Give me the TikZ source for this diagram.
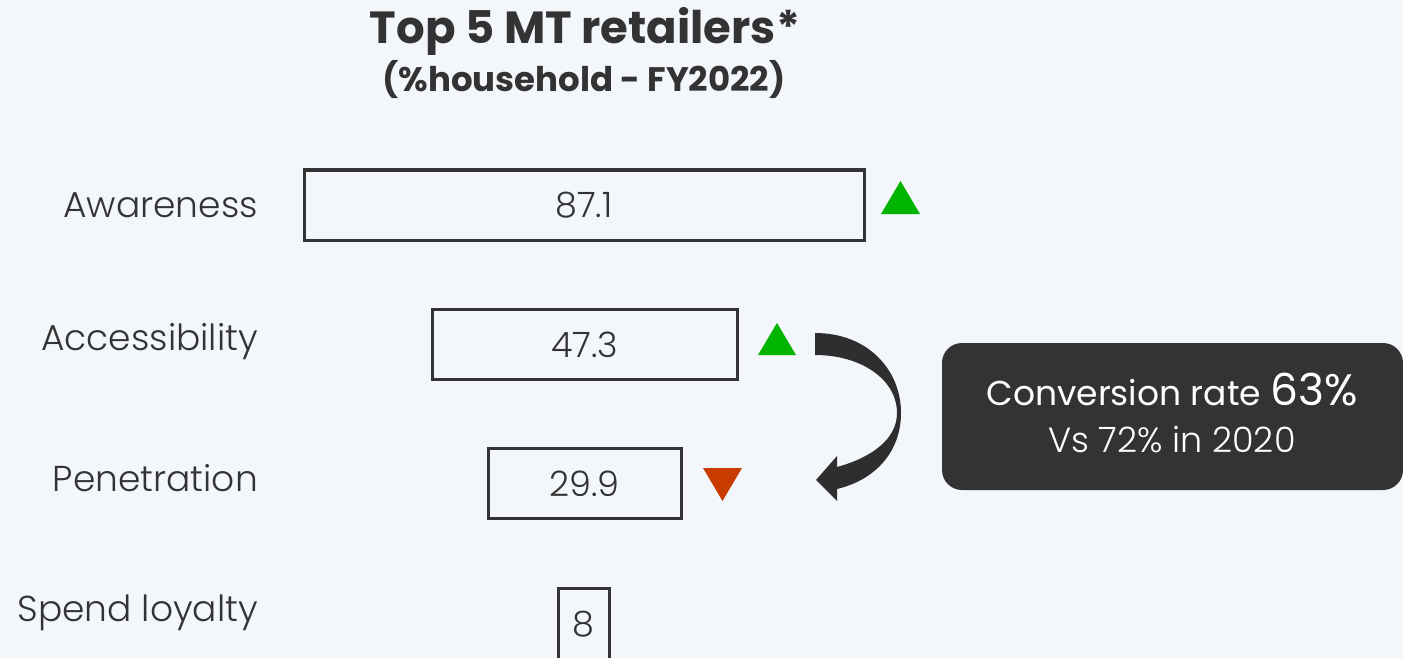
\documentclass[tikz,border=0pt]{standalone}
\usepackage{fontspec}
\setmainfont{Poppins}
\newfontfamily\lightfont{Poppins Light}
\usetikzlibrary{shapes.geometric}
\definecolor{bg}{HTML}{F3F6FA}
\definecolor{ink}{HTML}{333333}
\definecolor{upg}{HTML}{00B400}
\definecolor{dnr}{HTML}{C83C00}
\tikzset{
  bar/.style={draw=ink, line width=3pt, fill=none, inner sep=0pt, text=ink, font=\lightfont\fontsize{35}{38}\selectfont},
  lbl/.style={anchor=east, text=ink, inner sep=0pt, font=\lightfont\fontsize{36}{40}\selectfont},
}
\begin{document}
\begin{tikzpicture}[x=1pt,y=-1pt]
\fill[bg] (0,0) rectangle (1403,658);
\useasboundingbox (0,0) rectangle (1403,658);
% title
\node[text=ink, font=\bfseries\fontsize{45}{50}\selectfont, inner sep=0pt] (title) at (585,31) {Top 5 MT retailers*};
\node[text=ink, font=\bfseries\fontsize{34}{38}\selectfont, inner sep=0pt] (sub) at (584,80) {(\%household - FY2022)};
% labels
\node[lbl] (l1) at (258,205) {Awareness};
\node[lbl] (l2) at (258,342) {Accessibility};
\node[lbl] (l3) at (258,478) {Penetration};
\node[lbl] (l4) at (258,613) {Spend loyalty};
% bars
\node[bar, minimum width=560pt, minimum height=70pt] (b1) at (584,205) {87.1};
\node[bar, minimum width=305pt, minimum height=70pt] (b2) at (584.5,344.5) {47.3};
\node[bar, minimum width=193pt, minimum height=70pt] (b3) at (584.5,483.5) {29.9};
\node[bar, minimum width=51pt, minimum height=72pt] (b4) at (583.5,624) {8};
% triangles
\fill[upg] (881,214) -- (900.5,181) -- (920,214) -- cycle;
\fill[upg] (758,355) -- (777,323) -- (796,355) -- cycle;
\fill[dnr] (703,468) -- (742,468) -- (722.5,501) -- cycle;
% curved arrow
\fill[ink!90!black] (815,333) .. controls (868,333) and (901,370) .. (901,413)
  .. controls (901,452) and (875,480) .. (837,489) -- (837,501) -- (816,480) -- (837,456) -- (837,467)
  .. controls (870,458) and (897,440) .. (897,413)
  .. controls (897,380) and (862,355) .. (815,355) -- cycle;
% callout
\fill[ink, rounded corners=20pt] (942,343) rectangle (1403,490);
\node[text=white, inner sep=0pt, anchor=base] (c1) at (1172,405) {\fontsize{34.5}{38}\selectfont Conversion rate \fontsize{44}{48}\selectfont 63\%};
\node[text=white, inner sep=0pt, anchor=base] (c2) at (1172,452) {\lightfont\fontsize{35}{38}\selectfont Vs 72\% in 2020};
\end{tikzpicture}
\end{document}
